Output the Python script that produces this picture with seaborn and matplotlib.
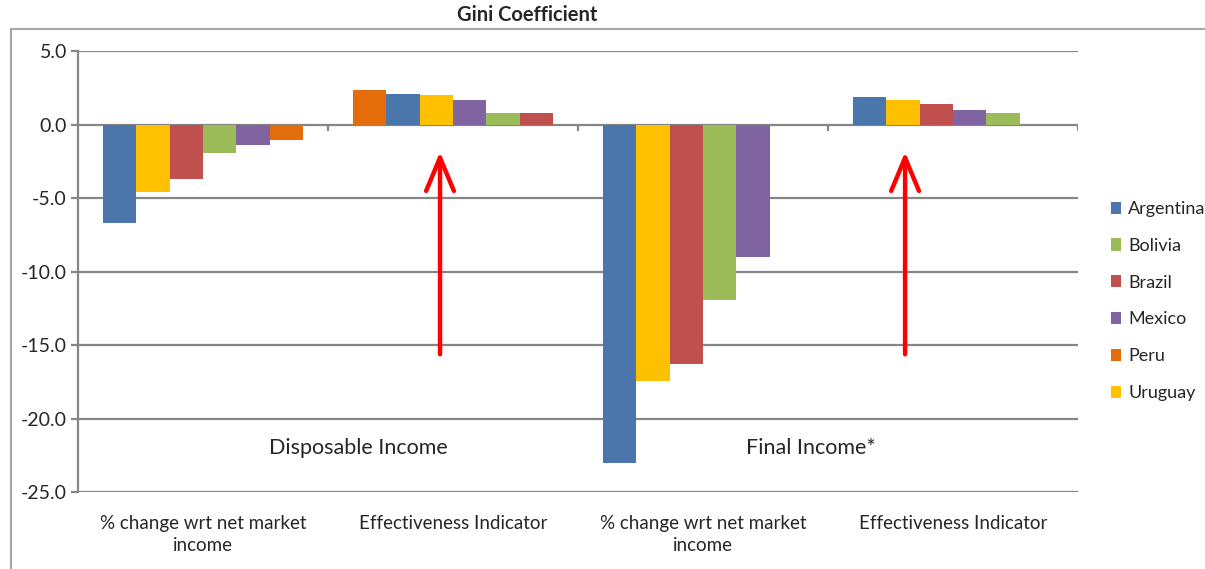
import numpy as np
import pandas as pd
import matplotlib.pyplot as plt
import seaborn as sns
from matplotlib.patches import Patch, Rectangle

sns.set_theme(style="white")
plt.rcParams['font.family'] = ['Lato', 'DejaVu Sans']

# Category labels along the x axis
group_labels = ['% change wrt net market\nincome', 'Effectiveness Indicator',
                '% change wrt net market\nincome', 'Effectiveness Indicator']
panel_labels = ['Disposable Income', 'Final Income*']

# Bars inside each group, in the order they appear (left to right)
disp_change_countries = ['Argentina', 'Uruguay', 'Brazil', 'Bolivia', 'Mexico', 'Peru']
disp_change_values = [-6.7, -4.6, -3.7, -1.9, -1.4, -1.0]
disp_eff_countries = ['Peru', 'Argentina', 'Uruguay', 'Mexico', 'Bolivia', 'Brazil']
disp_eff_values = [2.4, 2.1, 2.0, 1.7, 0.8, 0.8]
final_change_countries = ['Argentina', 'Uruguay', 'Brazil', 'Bolivia', 'Mexico']
final_change_values = [-23.0, -17.4, -16.3, -11.9, -9.0]
final_eff_countries = ['Argentina', 'Uruguay', 'Brazil', 'Mexico', 'Bolivia']
final_eff_values = [1.9, 1.7, 1.4, 1.0, 0.8]

legend_countries = ['Argentina', 'Bolivia', 'Brazil', 'Mexico', 'Peru', 'Uruguay']
country_colors = {
    'Argentina': '#4A76AC',
    'Bolivia': '#9BBB59',
    'Brazil': '#C0504D',
    'Mexico': '#8064A2',
    'Peru': '#E46C0A',
    'Uruguay': '#FFC000',
}

# Build a long table: group index, slot within the group, country, value
rows = []
for g, (cs, vs) in enumerate([(disp_change_countries, disp_change_values),
                              (disp_eff_countries, disp_eff_values),
                              (final_change_countries, final_change_values),
                              (final_eff_countries, final_eff_values)]):
    for slot, (c, v) in enumerate(zip(cs, vs)):
        rows.append({'group': g, 'slot': slot, 'country': c, 'value': v})
df = pd.DataFrame(rows)

fig = plt.figure(figsize=(12.05, 5.69), dpi=100)
ax = fig.add_axes([0.0647, 0.1348, 0.83, 0.775])

sns.barplot(data=df, x='group', y='value', hue='slot', order=[0, 1, 2, 3],
            hue_order=list(range(6)), width=0.8, dodge=True, errorbar=None,
            legend=False, saturation=1, ax=ax)

# Colour each bar by its country
for slot, container in enumerate(ax.containers):
    for bar in container:
        if np.isnan(bar.get_height()):
            continue
        g = int(round(bar.get_x() + bar.get_width() / 2))
        match = df[(df['group'] == g) & (df['slot'] == slot)]
        if len(match):
            bar.set_facecolor(country_colors[match['country'].iloc[0]])
        else:
            bar.set_visible(False)
        bar.set_edgecolor('none')

grid_color = '#868686'
ax.set_ylim(-25, 5)
ax.set_xlim(-0.5, 3.5)
ax.set_yticks(np.arange(-25, 6, 5))
ax.set_yticklabels([f"{t:.1f}" for t in np.arange(-25, 6, 5)], fontsize=14)
ax.yaxis.grid(True, color=grid_color, lw=1.6)
ax.set_axisbelow(True)
for s in ['top', 'right', 'bottom']:
    ax.spines[s].set_visible(False)
ax.spines['left'].set_color(grid_color)
ax.spines['left'].set_linewidth(1.6)
ax.tick_params(axis='y', left=True, length=5, width=1.6, color=grid_color, pad=3)
ax.set_xticks(range(4))
ax.set_xticklabels(group_labels, fontsize=13.5, linespacing=1.4)
ax.tick_params(axis='x', bottom=False, pad=10)
ax.set_xlabel('')
ax.set_ylabel('')

# Small tick marks on the zero line at category boundaries
bounds = np.arange(-0.5, 4, 1.0)
ax.vlines(bounds[1:], -0.45, 0, color=grid_color, lw=1.6)

# Red arrows pointing up at the effectiveness indicators
for x in [0.948, 2.808]:
    ax.annotate('', xy=(x, -1.65), xytext=(x, -15.8),
                arrowprops=dict(arrowstyle='->,head_length=1.2,head_width=0.5',
                                color='red', lw=3.2, mutation_scale=20))

ax.text(0.623, -22.0, panel_labels[0], ha='center', va='center', fontsize=15.5)
ax.text(2.432, -22.0, panel_labels[1], ha='center', va='center', fontsize=15.5)

fig.text(527 / 1205, 1 - 15 / 569, 'Gini Coefficient', ha='center', va='center',
         fontsize=14.5, fontweight='bold')

# Outer chart frame (cut off at the right and bottom)
fig.patches.append(Rectangle((11 / 1205, -0.1), 1.2, 1 - 29.5 / 569 + 0.1,
                             transform=fig.transFigure, fill=False,
                             edgecolor='#A6A6A6', lw=1.5))

handles = [Patch(facecolor=country_colors[c], edgecolor='none') for c in legend_countries]
fig.legend(handles, legend_countries, loc='center left',
           bbox_to_anchor=(1104 / 1205, 1 - 301 / 569), frameon=False,
           fontsize=13, handlelength=0.55, handleheight=0.65, handletextpad=0.4,
           labelspacing=1.15, borderaxespad=0)

fig.savefig('out.png', dpi=100)
